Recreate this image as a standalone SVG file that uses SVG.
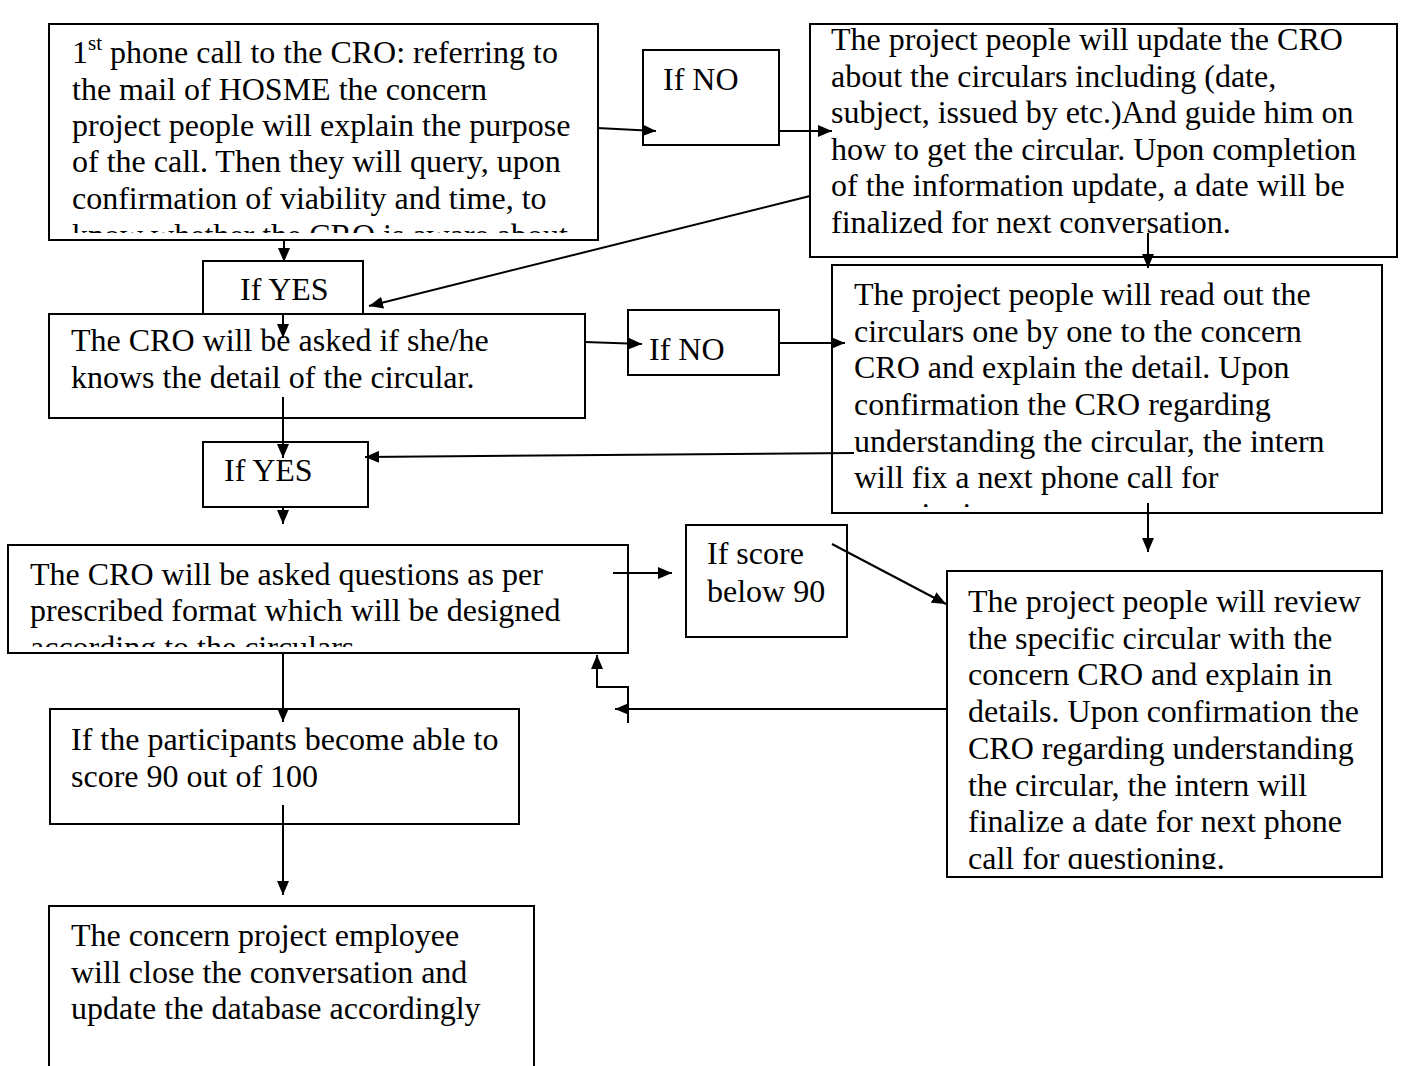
<svg xmlns="http://www.w3.org/2000/svg" width="1403" height="1066" viewBox="0 0 1403 1066">
<style>
.box{fill:#fff;stroke:#000;stroke-width:2}
.t{font-family:"Liberation Serif","Times New Roman",serif;font-size:32px;fill:#000}
.c{stroke:#000;stroke-width:2;fill:none}
</style>
<defs>
<marker id="ah" viewBox="0 0 14 12" refX="14" refY="6" markerWidth="14" markerHeight="12" markerUnits="userSpaceOnUse" orient="auto"><path d="M0,0 L14,6 L0,12 z" fill="#000"/></marker>
<clipPath id="clipA"><rect x="49" y="24" width="549" height="209"/></clipPath>
<clipPath id="clipD"><rect x="832" y="265" width="550" height="242"/></clipPath>
<clipPath id="clipF"><rect x="8" y="545" width="620" height="102"/></clipPath>
<clipPath id="clipI"><rect x="947" y="571" width="435" height="298"/></clipPath>
</defs>
<rect width="1403" height="1066" fill="#fff"/>

<g id="nodeA">
<rect class="box" x="49" y="24" width="549" height="216"/>
<g clip-path="url(#clipA)">
<text class="t" x="72" y="63">1<tspan font-size="21" dy="-13">st</tspan><tspan dy="13"> phone call to the CRO: referring to</tspan></text>
<text class="t" x="72" y="99.6">the mail of HOSME the concern</text>
<text class="t" x="72" y="136.2">project people will explain the purpose</text>
<text class="t" x="72" y="172.4">of the call. Then they will query, upon</text>
<text class="t" x="72" y="208.6">confirmation of viability and time, to</text>
<text class="t" x="72" y="245.5">know whether the CRO is aware about</text>
</g>
</g>

<g id="nodeIfNo1">
<rect class="box" x="643" y="50" width="136" height="95"/>
<text class="t" x="663" y="90">If NO</text>
</g>

<g id="nodeC">
<rect class="box" x="810" y="24" width="587" height="233"/>
<text class="t" x="831" y="50">The project people will update the CRO</text>
<text class="t" x="831" y="86.6">about the circulars including (date,</text>
<text class="t" x="831" y="123.2">subject, issued by etc.)And guide him on</text>
<text class="t" x="831" y="159.8">how to get the circular. Upon completion</text>
<text class="t" x="831" y="196.4">of the information update, a date will be</text>
<text class="t" x="831" y="233">finalized for next conversation.</text>
</g>

<g id="nodeIfYes1">
<rect class="box" x="203" y="261" width="160" height="53"/>
<text class="t" x="240" y="300">If YES</text>
</g>

<g id="nodeE">
<rect class="box" x="49" y="314" width="536" height="104"/>
<text class="t" x="71" y="351">The CRO will be asked if she/he</text>
<text class="t" x="71" y="388">knows the detail of the circular.</text>
</g>

<g id="nodeIfNo2">
<rect class="box" x="628" y="310" width="151" height="65"/>
<text class="t" x="649" y="360">If NO</text>
</g>

<g id="nodeD">
<rect class="box" x="832" y="265" width="550" height="248"/>
<g clip-path="url(#clipD)">
<text class="t" x="854" y="305">The project people will read out the</text>
<text class="t" x="854" y="341.7">circulars one by one to the concern</text>
<text class="t" x="854" y="378.4">CRO and explain the detail. Upon</text>
<text class="t" x="854" y="415">confirmation the CRO regarding</text>
<text class="t" x="854" y="451.7">understanding the circular, the intern</text>
<text class="t" x="854" y="488.4">will fix a next phone call for</text>
<text class="t" x="854" y="525">questioning.</text>
</g>
</g>

<g id="nodeIfYes2">
<rect class="box" x="203" y="442" width="165" height="65"/>
<text class="t" x="224" y="481">If YES</text>
</g>

<g id="nodeF">
<rect class="box" x="8" y="545" width="620" height="108"/>
<g clip-path="url(#clipF)">
<text class="t" x="30" y="585">The CRO will be asked questions as per</text>
<text class="t" x="30" y="621">prescribed format which will be designed</text>
<text class="t" x="30" y="658">according to the circulars.</text>
</g>
</g>

<g id="nodeJ">
<rect class="box" x="686" y="525" width="161" height="112"/>
<text class="t" x="707" y="564">If score</text>
<text class="t" x="707" y="602">below 90</text>
</g>

<g id="nodeI">
<rect class="box" x="947" y="571" width="435" height="306"/>
<g clip-path="url(#clipI)">
<text class="t" x="968" y="612">The project people will review</text>
<text class="t" x="968" y="648.7">the specific circular with the</text>
<text class="t" x="968" y="685.4">concern CRO and explain in</text>
<text class="t" x="968" y="722">details. Upon confirmation the</text>
<text class="t" x="968" y="758.8">CRO regarding understanding</text>
<text class="t" x="968" y="795.5">the circular, the intern will</text>
<text class="t" x="968" y="832">finalize a date for next phone</text>
<text class="t" x="968" y="868.8">call for questioning.</text>
</g>
</g>

<g id="nodeG">
<rect class="box" x="50" y="709" width="469" height="115"/>
<text class="t" x="71" y="750">If the participants become able to</text>
<text class="t" x="71" y="787">score 90 out of 100</text>
</g>

<g id="nodeH">
<rect class="box" x="49" y="906" width="485" height="180"/>
<text class="t" x="71" y="946">The concern project employee</text>
<text class="t" x="71" y="983">will close the conversation and</text>
<text class="t" x="71" y="1019">update the database accordingly</text>
</g>

<g id="connectors" class="c">
<line class="c" x1="597" y1="128" x2="656" y2="131" marker-end="url(#ah)"/>
<line class="c" x1="779" y1="131" x2="832" y2="131" marker-end="url(#ah)"/>
<line class="c" x1="810" y1="196" x2="369" y2="306" marker-end="url(#ah)"/>
<line class="c" x1="284" y1="240" x2="284" y2="262" marker-end="url(#ah)"/>
<line class="c" x1="283" y1="314" x2="283" y2="338" marker-end="url(#ah)"/>
<line class="c" x1="585" y1="342" x2="642" y2="344" marker-end="url(#ah)"/>
<line class="c" x1="779" y1="343" x2="845" y2="343" marker-end="url(#ah)"/>
<line class="c" x1="1148" y1="233" x2="1148" y2="268" marker-end="url(#ah)"/>
<line class="c" x1="854" y1="453" x2="365" y2="457" marker-end="url(#ah)"/>
<line class="c" x1="283" y1="397" x2="283" y2="458" marker-end="url(#ah)"/>
<line class="c" x1="283" y1="507" x2="283" y2="524" marker-end="url(#ah)"/>
<line class="c" x1="1148" y1="503" x2="1148" y2="552" marker-end="url(#ah)"/>
<line class="c" x1="613" y1="573" x2="672" y2="573" marker-end="url(#ah)"/>
<line class="c" x1="832" y1="544" x2="946" y2="604" marker-end="url(#ah)"/>
<line class="c" x1="946" y1="709" x2="615" y2="709" marker-end="url(#ah)"/>
<polyline class="c" points="628,723 628,687 597,687 597,655" marker-end="url(#ah)"/>
<line class="c" x1="283" y1="653" x2="283" y2="722" marker-end="url(#ah)"/>
<line class="c" x1="283" y1="805" x2="283" y2="895" marker-end="url(#ah)"/>
</g>
</svg>
